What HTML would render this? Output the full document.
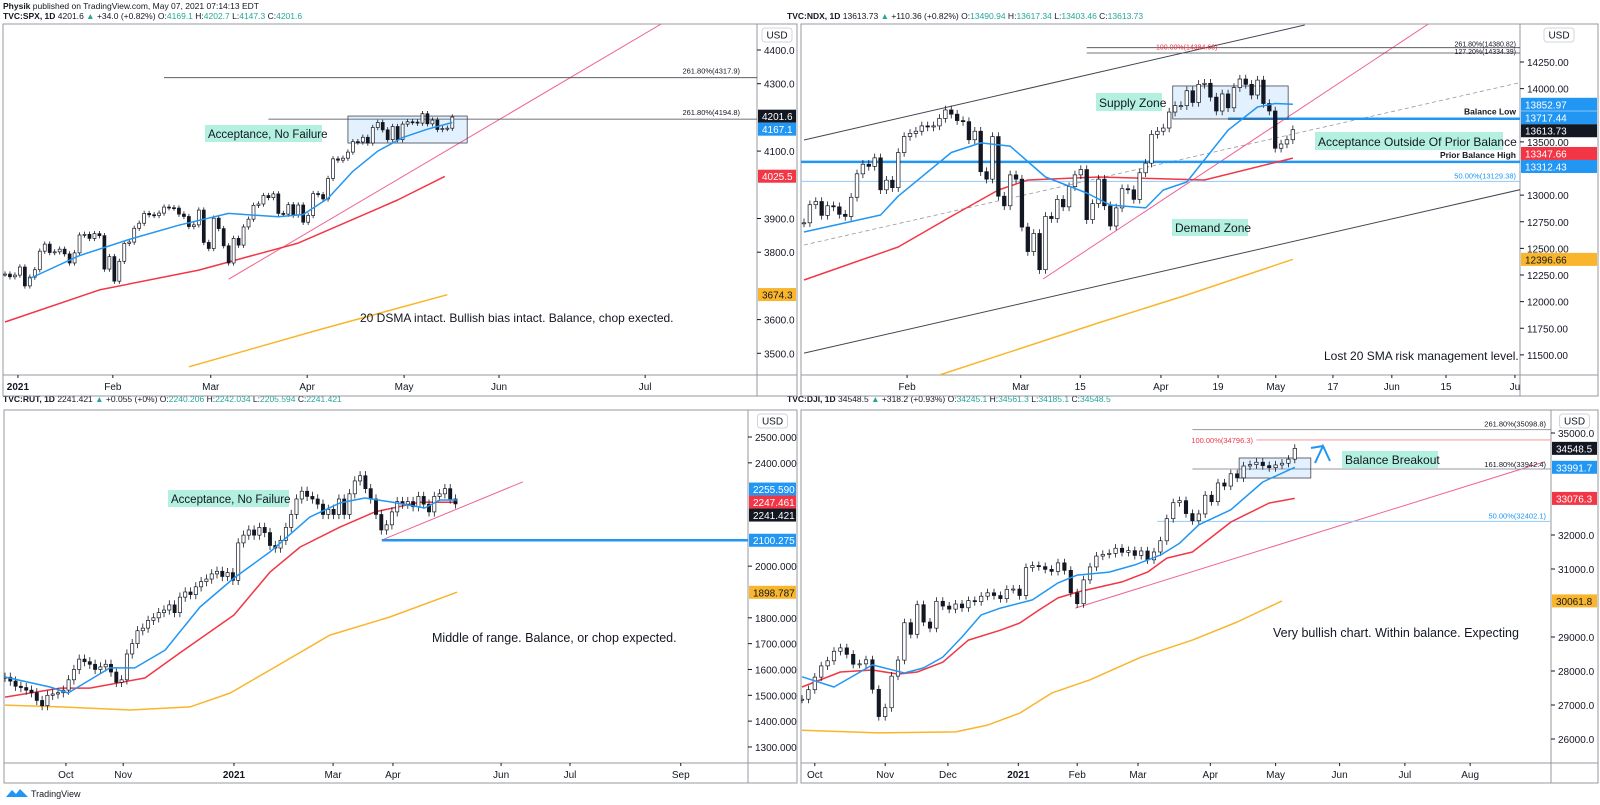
<!DOCTYPE html>
<html><head><meta charset="utf-8"><title>Charts</title>
<style>
html,body{margin:0;padding:0;background:#fff;}
svg{display:block;font-family:"Liberation Sans",sans-serif;}
.ax{font-size:10px;fill:#131722;}
.ann{fill:#131722;}
</style></head>
<body>
<svg id="s" width="1600" height="805" viewBox="0 0 1600 805" xmlns="http://www.w3.org/2000/svg">
<defs>
<clipPath id="c-spx"><rect x="3" y="24" width="754" height="351"/></clipPath>
<clipPath id="c-ndx"><rect x="801" y="24" width="719" height="351"/></clipPath>
<clipPath id="c-rut"><rect x="4" y="410" width="744" height="353"/></clipPath>
<clipPath id="c-dji"><rect x="801" y="410" width="750" height="353"/></clipPath>
</defs>
<rect x="0" y="0" width="1600" height="805" fill="#fff"/>
<text x="3" y="9" font-size="8.5" fill="#131722"><tspan font-weight="bold">Physik</tspan> published on TradingView.com, May 07, 2021 07:14:13 EDT</text>
<text x="3" y="19" font-size="8.5" fill="#131722"><tspan font-weight="bold">TVC:SPX, 1D</tspan> 4201.6 <tspan fill="#26a69a">▲</tspan> +34.0 (+0.82%) O:<tspan fill="#26a69a">4169.1</tspan> H:<tspan fill="#26a69a">4202.7</tspan> L:<tspan fill="#26a69a">4147.3</tspan> C:<tspan fill="#26a69a">4201.6</tspan></text>
<text x="787" y="19" font-size="8.5" fill="#131722"><tspan font-weight="bold">TVC:NDX, 1D</tspan> 13613.73 <tspan fill="#26a69a">▲</tspan> +110.36 (+0.82%) O:<tspan fill="#26a69a">13490.94</tspan> H:<tspan fill="#26a69a">13617.34</tspan> L:<tspan fill="#26a69a">13403.46</tspan> C:<tspan fill="#26a69a">13613.73</tspan></text>
<text x="3" y="402" font-size="8.5" fill="#131722"><tspan font-weight="bold">TVC:RUT, 1D</tspan> 2241.421 <tspan fill="#26a69a">▲</tspan> +0.055 (+0%) O:<tspan fill="#26a69a">2240.206</tspan> H:<tspan fill="#26a69a">2242.034</tspan> L:<tspan fill="#26a69a">2205.594</tspan> C:<tspan fill="#26a69a">2241.421</tspan></text>
<text x="787" y="402" font-size="8.5" fill="#131722"><tspan font-weight="bold">TVC:DJI, 1D</tspan> 34548.5 <tspan fill="#26a69a">▲</tspan> +318.2 (+0.93%) O:<tspan fill="#26a69a">34245.1</tspan> H:<tspan fill="#26a69a">34561.3</tspan> L:<tspan fill="#26a69a">34185.1</tspan> C:<tspan fill="#26a69a">34548.5</tspan></text>
<g>
<path d="M6 797 L12 790 L16 794 L20 789 L28 797 Z" fill="#2196f3"/>
<text x="31" y="797" font-size="9" fill="#131722">TradingView</text>
</g>
</svg>
<script>
// ---------- SPX data ----------
const spxCloses=[3735,3727,3732,3756,
3700,3726,3748,3803,3824,3799,3801,3809,3795,3768,3798,3851,3853,3841,3855,3849,3750,3787,3714,
3773,3826,3830,3871,3886,3915,3911,3909,3916,3934,3932,3931,3913,3906,3876,3881,3925,3829,3811,
3901,3870,3819,3768,3841,3821,3875,3898,3939,3943,3968,3962,3973,3915,3913,3941,3910,3940,3889,3909,3974,3971,3958,
4019,4077,4073,4079,4097,4128,4127,4141,4124,4170,4185,4163,4134,4173,4134,4180,4187,4186,4183,4211,4181,
4192,4164,4167,4168,4201];
const spxSma20Idx=[5,15,25,35,45,55,60,65,70,75,80,85,90];
const spxSma20=[3722,3790,3838,3880,3915,3905,3912,3960,4040,4100,4140,4165,4185];
const spxSma50Idx=[0,19,39,59,79,88.5];
const spxSma50=[3593,3688,3747,3827,3955,4025];
const spxSma200Idx=[37,63,89];
const spxSma200=[3460,3569,3674];
const spxTrendIdx=[45,132];
const spxTrendVal=[3720,4477];
const spxFibVal=[4317.9,4194.8];
const spxFibFromIdx=[32,53];
const spxBoxIdx=[69,93];
const spxBoxVal=[4204,4124];
const spxTicks=[4400,4300,4100,3900,3800,3700,3600,3500];
const spxTickText=["4400.0","4300.0","4100.0","3900.0","3800.0","3700.0","3600.0","3500.0"];
const spxTagVal=[4201.6,4167.1,4025.5,3674.3];
const spxTagText=["4201.6","4167.1","4025.5","3674.3"];
const spxTimeLabels=["2021","Feb","Mar","Apr","May","Jun","Jul"];
const spxTimeIdx=[2.6,21.7,41.4,60.8,80.3,99.4,128.8];

// ---------- NDX data ----------
const ndxCloses=[12740,12910,12940,12810,12900,12890,12820,12800,12980,13200,13290,13270,13350,13050,13140,13070,
13400,13550,13580,13600,13650,13640,13650,13720,13800,13760,13700,13690,13520,13600,13220,13150,13550,12990,12900,
13190,13150,12700,12470,12640,12300,12800,12780,12960,12890,13080,13190,13240,12770,12920,13150,12900,12710,12880,13060,13050,12960,13210,
13300,13570,13600,13630,13780,13840,13840,13980,13870,14040,14050,13920,13790,13950,13820,14010,14090,14040,13940,14080,13860,
13790,13440,13480,13520,13614];
const ndxSma20Idx=[0,13,16,25,30,35,41,48,52,58,61,65,72,77,80,83];
const ndxSma20=[12654,12813,12990,13400,13490,13460,13170,13020,12907,12880,13048,13123,13611,13827,13860,13853];
const ndxSma50Idx=[0,16,25,33,38,50,68,83];
const ndxSma50=[12203,12513,12800,13048,13142,13170,13142,13348];
const ndxSma200Idx=[23,50,65,83];
const ndxSma200=[11311,11800,12062,12397];
const ndxUpperIdx=[0,85]; const ndxUpperVal=[13518,14597];
const ndxLowerIdx=[0,122]; const ndxLowerVal=[11517,13057];
const ndxMidIdx=[0,122]; const ndxMidVal=[12532,14062];
const ndxTrendIdx=[40.6,106]; const ndxTrendVal=[12212,14607];
const ndxLevelVal=[13312.43,13717.44];
const ndxLevelFromIdx=[34,72];
const ndxFibVal=[14384.6,14334.39,13129.38];
const ndxFibFromIdx=[48,48,41];
const ndxBoxIdx=[62.6,82.2]; const ndxBoxVal=[14025,13715];
const ndxTicks=[14250,14000,13500,13000,12750,12500,12250,12000,11750,11500];
const ndxTickText=["14250.00","14000.00","13500.00","13000.00","12750.00","12500.00","12250.00","12000.00","11750.00","11500.00"];
const ndxTagVal=[13852.97,13717.44,13613.73,13347.66,13312.43,12396.66];
const ndxTagText=["13852.97","13717.44","13613.73","13347.66","13312.43","12396.66"];
const ndxTimeLabels=["Feb","Mar","15","Apr","19","May","17","Jun","15","Ju"];
const ndxTimeIdx=[17.5,36.8,46.9,60.6,70.3,80.1,89.8,99.8,109,120.7];

// ---------- RUT data ----------
const rutCloses=[1570,1555,1535,1530,1520,1510,1480,1460,1500,1505,1510,
1520,1560,1600,1640,1630,1620,1600,1610,1620,1590,1550,
1560,1660,1700,1750,1760,1790,1800,1820,1830,1850,
1820,1880,1900,1890,1920,1940,1950,1970,1980,1960,1975,
1945,2090,2120,2140,2120,2150,2130,2080,2070,2100,
2150,2200,2260,2290,2270,2260,2240,2200,2220,2200,
2260,2200,2280,2330,2350,2300,2260,2200,2140,2160,2210,
2250,2240,2250,2230,2270,2240,2210,2270,2280,2300,
2260,2241];
const rutSma20Idx=[0,8.5,11.9,19.8,24.5,30.2,36.8,43.2,50,57.5,63.2,67.9,72.6,79.2,82,85.3];
const rutSma20=[1571,1532,1509,1606,1606,1675,1842,1954,2055,2190,2245,2264,2249,2225,2256,2256];
const rutSma50Idx=[0,10.4,16,26.4,33,43.2,50,55.7,63.2,69.8,78.3,85.3];
const rutSma50=[1493,1528,1528,1567,1664,1811,1977,2074,2151,2210,2248,2247];
const rutSma200Idx=[0,10.4,23.6,34.9,42.5,50,61.3,72.6,85.3];
const rutSma200=[1462,1455,1443,1455,1509,1598,1733,1803,1899];
const rutTrendIdx=[71.1,97.7]; const rutTrendVal=[2101,2326];
const rutLevelVal=[2100.275]; const rutLevelFromIdx=[71.1];
const rutTicks=[2500,2400,2000,1800,1700,1600,1500,1400,1300];
const rutTickText=["2500.000","2400.000","2000.000","1800.000","1700.000","1600.000","1500.000","1400.000","1300.000"];
const rutTagVal=[2255.59,2247.461,2241.421,2100.275,1898.787];
const rutTagText=["2255.590","2247.461","2241.421","2100.275","1898.787"];
const rutTimeLabels=["Oct","Nov","2021","Mar","Apr","Jun","Jul","Sep"];
const rutTimeIdx=[11.5,22.3,43.2,61.9,73.2,93.6,106.6,127.5];

// ---------- DJI data ----------
const djiCloses=[27170,27450,27820,28150,28300,28580,28680,28490,28200,28210,
28330,27460,26660,26920,27850,28320,29420,29080,29950,29440,
29260,30050,29910,29820,29970,29860,30070,30040,30200,30300,
30220,30130,30400,30410,30220,31040,31100,31070,30990,30930,
31180,30960,30300,29980,30680,31060,31380,31430,31460,31610,
31490,31540,31400,31530,31270,31500,31830,32480,32950,33010,
32630,32420,32620,33170,32980,33530,33440,33800,33680,34030,
34070,34140,34040,33980,34060,34110,34230,34548];
const djiSma20Idx=[0,5,11,16,19,22,25,28,31,36,40,43,48,52,56,59,62,67,72,77];
const djiSma20=[27830,27530,28180,27940,28090,28410,29000,29650,29850,30090,30590,30820,30910,31120,31410,31760,32300,32740,33560,33992];
const djiSma50Idx=[0,6,11,15,18,22,26,31,34,37,40,43,50,54,57,61,67,73,77];
const djiSma50=[27530,27970,28030,27910,27970,28260,28910,29200,29410,29790,30150,30320,30620,30910,31320,31500,32380,32940,33076];
const djiSma200Idx=[0,12,24,29,34,39,45,53,61,68,75];
const djiSma200=[26260,26180,26210,26410,26760,27350,27740,28410,28910,29440,30062];
const djiTrendIdx=[42.7,116]; const djiTrendVal=[29850,34150];
const djiFibVal=[35098.8,34796.3,33942.4,32402.1];
const djiFibFromIdx=[61,71,61,55.5];
const djiBoxIdx=[68.3,79.5]; const djiBoxVal=[34265,33676];
const djiTicks=[35000,32000,31000,29000,28000,27000,26000];
const djiTickText=["35000.0","32000.0","31000.0","29000.0","28000.0","27000.0","26000.0"];
const djiTagVal=[34548.5,33991.7,33076.3,30061.8];
const djiTagText=["34548.5","33991.7","33076.3","30061.8"];
const djiTimeLabels=["Oct","Nov","Dec","2021","Feb","Mar","Apr","May","Jun","Jul","Aug"];
const djiTimeIdx=[2,13,22.8,33.8,43,52.5,63.8,74,84,94.2,104.4];

// ---------- rendering ----------
const NS='http://www.w3.org/2000/svg';
const svg=document.getElementById('s');
function el(tag,parent,attrs){const e=document.createElementNS(NS,tag);for(const k in attrs)e.setAttribute(k,attrs[k]);parent.appendChild(e);return e;}

const C={
 spx:{l:3,a:757,t:24,b:375,r:797,bot:396,x0:5,dx:4.97,pT:4400,yT:50,k:0.337,bw:3,wick:8},
 ndx:{l:801,a:1520,t:24,b:375,r:1598,bot:396,x0:804,dx:5.89,pT:14250,yT:62,k:0.1065,bw:3.6,wick:40},
 rut:{l:4,a:748,t:410,b:763,r:797,bot:783,x0:5,dx:5.3,pT:2500,yT:437,k:0.2583,bw:3.2,wick:18},
 dji:{l:801,a:1551,t:410,b:763,r:1598,bot:783,x0:802,dx:6.4,pT:35000,yT:433,k:0.034,bw:3.4,wick:120}
};
function px(c,i){return c.x0+i*c.dx;}
function py(c,p){return c.yT+(c.pT-p)*c.k;}

function panel(id,c){
 const f=el('rect',svg,{x:c.l,y:c.t,width:c.r-c.l,height:c.bot-c.t,fill:'none',stroke:'#9598a1','stroke-width':1});
 
 
 const v=el('line',svg,{x1:c.a,y1:c.t,x2:c.a,y2:c.bot,stroke:'#9598a1','stroke-width':1});
 
 
 const h=el('line',svg,{x1:c.l,y1:c.b,x2:c.r,y2:c.b,stroke:'#9598a1','stroke-width':1});
 
 
 const g=el('g',svg,{'clip-path':'url(#c-'+id+')'});
 
 
 return g;
}
function candles(id,c,g,closes){
 const cg=el('g',g,{});
 
 
 closes.forEach((cl,i)=>{
  const o=i>0?closes[i-1]:cl;
  const hi=Math.max(o,cl)+c.wick, lo=Math.min(o,cl)-c.wick;
  const x=px(c,i);
  const w=el('line',cg,{x1:x,y1:py(c,hi),x2:x,y2:py(c,lo),stroke:'#131722','stroke-width':0.8});
  
  
  const up=cl>=o;
  const yt=py(c,Math.max(o,cl)), yb=py(c,Math.min(o,cl));
  const b=el('rect',cg,{x:x-c.bw/2,y:yt,width:c.bw,height:Math.max(1,yb-yt),fill:up?'#ffffff':'#131722',stroke:'#131722','stroke-width':0.7});
  
  
 });
}
function series(name,c,g,idx,vals,color,width,dash){
 const pts=idx.map((i,k)=>px(c,i).toFixed(1)+','+py(c,vals[k]).toFixed(1)).join(' ');
 const p=el('polyline',g,{points:pts,fill:'none',stroke:color,'stroke-width':width,'stroke-linejoin':'round'});
 if(dash)p.setAttribute('stroke-dasharray',dash);
 
 
 return p;
}
function hline(name,c,g,val,fromIdx,color,width,xStart){
 const y=py(c,val);
 const l=el('line',g,{x1:xStart!==undefined?xStart:px(c,fromIdx),y1:y,x2:c.a,y2:y,stroke:color,'stroke-width':width});
 
 
}
function zbox(name,c,g,idx,vals){
 const x1=px(c,idx[0]),x2=px(c,idx[1]),y1=py(c,vals[0]),y2=py(c,vals[1]);
 const r=el('rect',g,{x:x1,y:y1,width:x2-x1,height:y2-y1,fill:'rgba(33,150,243,0.13)',stroke:'#434651','stroke-width':0.8});
 
 
}
function axis(id,c,ticks,tickText,tagVal,tagText,tagColors,timeLabels,timeIdx,boldIdx){
 const tags=tagVal.map((v,i)=>({y:py(c,v),t:tagText[i],col:tagColors[i]}));
 for(let it=0;it<60;it++){
  tags.sort((a,b)=>a.y-b.y);
  for(let i=1;i<tags.length;i++){const d=tags[i].y-tags[i-1].y;if(d<13){const m=(13-d)/2;tags[i].y+=m;tags[i-1].y-=m;}}
 }
 ticks.forEach((v,i)=>{
  const y=py(c,v);
  if(tags.some(t=>Math.abs(t.y-y)<11))return;
  const tk=el('line',svg,{x1:c.a,y1:y,x2:c.a+4,y2:y,stroke:'#131722','stroke-width':1});
  
  
  const tx=el('text',svg,{x:c.a+7,y:y+4,class:'ax'});
  tx.textContent=tickText[i];
  
  
 });
 tags.forEach(t=>{
  const r=el('rect',svg,{x:c.a+1,y:t.y-6.5,width:c.r-c.a-2,height:13,fill:t.col});
  
  
  const tx=el('text',svg,{x:c.a+5,y:t.y+4,class:'ax'});
  tx.setAttribute('style','fill:'+(t.col==='#f9b52b'?'#131722':'#ffffff'));
  tx.textContent=t.t;
  
  
 });
 const ub=el('rect',svg,{x:c.a+(c.r-c.a)/2-15,y:c.t+4,width:30,height:14,rx:3,fill:'#fff',stroke:'#d1d4dc'});
 
 
 const ut=el('text',svg,{x:c.a+(c.r-c.a)/2,y:c.t+14.5,class:'ax','text-anchor':'middle'});
 ut.textContent='USD';
 
 
 timeLabels.forEach((s,i)=>{
  const x=px(c,timeIdx[i]);
  if(x>c.a-4)return;
  const tk=el('line',svg,{x1:x,y1:c.b,x2:x,y2:c.b+3,stroke:'#131722','stroke-width':1});
  
  
  const tx=el('text',svg,{x:x,y:c.b+15,class:'ax','text-anchor':'middle'});
  if(i===boldIdx)tx.setAttribute('font-weight','bold');
  tx.textContent=s;
  
  
 });
}
function label(name,parent,x,y,txt,fs,anchor,color,bold){
 const t=el('text',parent,{x:x,y:y,class:'ann'});
 let st='font-size:'+fs+'px;';
 if(color)st+='fill:'+color+';';
 if(bold)st+='font-weight:bold;';
 t.setAttribute('style',st);
 if(anchor)t.setAttribute('text-anchor',anchor);
 t.textContent=txt;
 
 
 return t;
}
function tagBox(name,parent,x,y,w,h,txt,fs){
 const r=el('rect',parent,{x:x,y:y,width:w,height:h,fill:'#b4f0df'});
 
 
 label(name,parent,x+3,y+h-4,txt,fs);
}
const BLUE='#2196f3',RED='#f23645',YEL='#f9b52b',PINK='#f06292';

// SPX
(function(){const c=C.spx,g=panel('spx',c);
 series('spx-trendline',c,g,spxTrendIdx,spxTrendVal,PINK,1);
 spxFibVal.forEach((v,i)=>hline('spx-fib-level',c,g,v,spxFibFromIdx[i],'#434651',0.8));
 zbox('spx-balance-box',c,g,spxBoxIdx,spxBoxVal);
 series('spx-sma200',c,g,spxSma200Idx,spxSma200,YEL,1.5);
 series('spx-sma50',c,g,spxSma50Idx,spxSma50,RED,1.5);
 candles('spx',c,g,spxCloses);
 series('spx-sma20',c,g,spxSma20Idx,spxSma20,BLUE,1.5);
 label('spx-fib-label',g,740,py(c,spxFibVal[0])-4,'261.80%(4317.9)',7.5,'end');
 label('spx-fib-label',g,740,py(c,spxFibVal[1])-4,'261.80%(4194.8)',7.5,'end');
 tagBox('spx-acceptance-note',g,205,125,117,17,'Acceptance, No Failure',11.5);
 label('spx-summary-note',g,360,322,'20 DSMA intact. Bullish bias intact. Balance, chop exected.',12);
 axis('spx',c,spxTicks,spxTickText,spxTagVal,spxTagText,['#131722',BLUE,RED,YEL],spxTimeLabels,spxTimeIdx,0);
})();
// NDX
(function(){const c=C.ndx,g=panel('ndx',c);
 series('ndx-channel-upper',c,g,ndxUpperIdx,ndxUpperVal,'#434651',1);
 series('ndx-channel-lower',c,g,ndxLowerIdx,ndxLowerVal,'#434651',1);
 series('ndx-channel-mid',c,g,ndxMidIdx,ndxMidVal,'#9598a1',0.8,'4,3');
 series('ndx-trendline',c,g,ndxTrendIdx,ndxTrendVal,PINK,1);
 hline('ndx-fib-level',c,g,ndxFibVal[0],ndxFibFromIdx[0],'#434651',0.8);
 hline('ndx-fib-level',c,g,ndxFibVal[1],ndxFibFromIdx[1],'#434651',0.8);
 hline('ndx-fib-50',c,g,ndxFibVal[2],ndxFibFromIdx[2],'#90caf9',1,801);
 hline('ndx-prior-balance-high',c,g,ndxLevelVal[0],ndxLevelFromIdx[0],BLUE,2.5,801);
 hline('ndx-balance-low',c,g,ndxLevelVal[1],ndxLevelFromIdx[1],BLUE,2.5);
 zbox('ndx-supply-box',c,g,ndxBoxIdx,ndxBoxVal);
 series('ndx-sma200',c,g,ndxSma200Idx,ndxSma200,YEL,1.5);
 series('ndx-sma50',c,g,ndxSma50Idx,ndxSma50,RED,1.5);
 candles('ndx',c,g,ndxCloses);
 series('ndx-sma20',c,g,ndxSma20Idx,ndxSma20,BLUE,1.5);
 label('ndx-fib-label',g,1156,py(c,ndxFibVal[0])+2,'100.00%(14384.60)',7,null,'#f23645');
 label('ndx-fib-label',g,1516,py(c,ndxFibVal[0])-1,'261.80%(14380.82)',7,'end');
 label('ndx-fib-label',g,1516,py(c,ndxFibVal[1])+1,'127.20%(14334.39)',7,'end');
 label('ndx-fib-label',g,1516,py(c,ndxFibVal[2])-3,'50.00%(13129.38)',7.5,'end','#2196f3');
 label('ndx-balance-low-label',g,1516,py(c,ndxLevelVal[1])-4,'Balance Low',8.5,'end',null,true);
 label('ndx-prior-balance-high-label',g,1516,py(c,ndxLevelVal[0])-4,'Prior Balance High',8.5,'end',null,true);
 tagBox('ndx-supply-zone-note',g,1096,93,66,18,'Supply Zone',12);
 tagBox('ndx-acceptance-note',g,1315,132,188,18,'Acceptance Outside Of Prior Balance',12);
 tagBox('ndx-demand-zone-note',g,1172,219,76,17,'Demand Zone',12);
 label('ndx-risk-note',g,1324,360,'Lost 20 SMA risk management level.',12);
 axis('ndx',c,ndxTicks,ndxTickText,ndxTagVal,ndxTagText,[BLUE,BLUE,'#131722',RED,BLUE,YEL],ndxTimeLabels,ndxTimeIdx,-1);
})();
// RUT
(function(){const c=C.rut,g=panel('rut',c);
 series('rut-trendline',c,g,rutTrendIdx,rutTrendVal,PINK,1);
 hline('rut-support-level',c,g,rutLevelVal[0],rutLevelFromIdx[0],BLUE,2.5);
 series('rut-sma200',c,g,rutSma200Idx,rutSma200,YEL,1.5);
 series('rut-sma50',c,g,rutSma50Idx,rutSma50,RED,1.5);
 candles('rut',c,g,rutCloses);
 series('rut-sma20',c,g,rutSma20Idx,rutSma20,BLUE,1.5);
 tagBox('rut-acceptance-note',g,168,490,121,17,'Acceptance, No Failure',11.5);
 label('rut-summary-note',g,432,642,'Middle of range. Balance, or chop expected.',12.5);
 axis('rut',c,rutTicks,rutTickText,rutTagVal,rutTagText,[BLUE,RED,'#131722',BLUE,YEL],rutTimeLabels,rutTimeIdx,2);
})();
// DJI
(function(){const c=C.dji,g=panel('dji',c);
 series('dji-trendline',c,g,djiTrendIdx,djiTrendVal,PINK,1);
 hline('dji-fib-261',c,g,djiFibVal[0],djiFibFromIdx[0],'#9598a1',1);
 hline('dji-fib-100',c,g,djiFibVal[1],djiFibFromIdx[1],'#f7a1a8',1.2);
 hline('dji-fib-161',c,g,djiFibVal[2],djiFibFromIdx[2],'#9598a1',1);
 hline('dji-fib-50',c,g,djiFibVal[3],djiFibFromIdx[3],'#90caf9',1);
 zbox('dji-balance-box',c,g,djiBoxIdx,djiBoxVal);
 series('dji-sma200',c,g,djiSma200Idx,djiSma200,YEL,1.5);
 series('dji-sma50',c,g,djiSma50Idx,djiSma50,RED,1.5);
 candles('dji',c,g,djiCloses);
 series('dji-sma20',c,g,djiSma20Idx,djiSma20,BLUE,1.5);
 label('dji-fib-label',g,1546,py(c,djiFibVal[0])-3,'261.80%(35098.8)',7.5,'end');
 label('dji-fib-label',g,1253,py(c,djiFibVal[1])+3,'100.00%(34796.3)',7.5,'end','#f23645');
 label('dji-fib-label',g,1546,py(c,djiFibVal[2])-2,'161.80%(33942.4)',7.5,'end');
 label('dji-fib-label',g,1546,py(c,djiFibVal[3])-3,'50.00%(32402.1)',7.5,'end','#2196f3');
 const ar=el('polyline',g,{points:'1315,463 1323,446 1330,461',fill:'none',stroke:BLUE,'stroke-width':2});
 
 
 const ar2=el('line',g,{x1:1311,y1:448,x2:1323,y2:446,stroke:BLUE,'stroke-width':2});
 
 
 tagBox('dji-breakout-note',g,1342,451,96,17,'Balance Breakout',12);
 label('dji-summary-note',g,1273,637,'Very bullish chart. Within balance. Expecting',12.5);
 axis('dji',c,djiTicks,djiTickText,djiTagVal,djiTagText,['#131722',BLUE,RED,YEL],djiTimeLabels,djiTimeIdx,3);
})();
</script>
</body></html>
